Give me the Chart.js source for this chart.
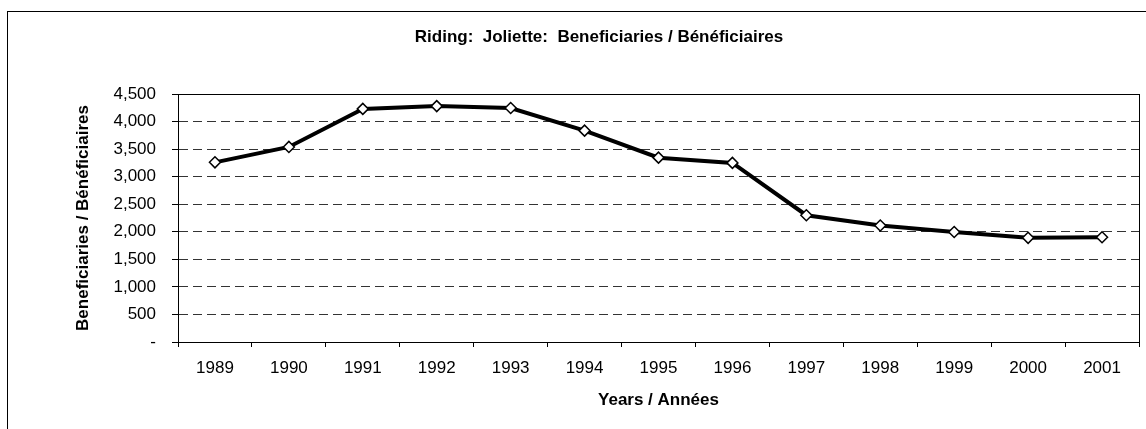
<!DOCTYPE html>
<html>
<head>
<meta charset="utf-8">
<script src="https://cdn.jsdelivr.net/npm/chart.js@4/dist/chart.umd.min.js"></script>
<style>
html,body{margin:0;padding:0;background:#fff;}
#wrap{width:1146px;height:429px;position:relative;}
</style>
</head>
<body>
<div id="wrap"><canvas id="c" width="1146" height="429"></canvas></div>
<script>
const years = ['1989','1990','1991','1992','1993','1994','1995','1996','1997','1998','1999','2000','2001'];
const beneficiaries = [3260, 3540, 4230, 4280, 4245, 3835, 3345, 3250, 2300, 2115, 1995, 1890, 1900];
const yTicks = [0, 500, 1000, 1500, 2000, 2500, 3000, 3500, 4000, 4500];
const titleText = 'Riding:  Joliette:  Beneficiaries / Bénéficiaires';
const yTitle = 'Beneficiaries / Bénéficiaires';
const xTitle = 'Years / Années';

const FONT = "'Liberation Sans', Arial, sans-serif";

const framePlugin = {
  id: 'frame',
  beforeDraw(chart) {
    const ctx = chart.ctx;
    ctx.save();
    ctx.fillStyle = '#fff';
    ctx.fillRect(0, 0, chart.width, chart.height);
    ctx.strokeStyle = '#000';
    ctx.lineWidth = 1;
    ctx.strokeRect(7.5, 11.5, 1300, 600);
    // chart title (the full chart frame extends beyond the right edge, so its centre is at ~599)
    ctx.fillStyle = '#000';
    ctx.font = "bold 17px " + FONT;
    ctx.textAlign = 'center';
    ctx.textBaseline = 'alphabetic';
    ctx.fillText(titleText, 599, 42);
    ctx.restore();
  },
  beforeDatasetsDraw(chart) {
    const a = chart.chartArea;
    const ctx = chart.ctx;
    ctx.save();
    ctx.strokeStyle = '#000';
    ctx.lineWidth = 1;
    ctx.strokeRect(Math.round(a.left) + 0.5, Math.round(a.top) + 0.5, Math.round(a.right - a.left), Math.round(a.bottom - a.top));
    ctx.restore();
  }
};

new Chart(document.getElementById('c'), {
  type: 'line',
  data: {
    labels: years,
    datasets: [{
      data: beneficiaries,
      borderColor: '#000',
      borderWidth: 4,
      tension: 0,
      pointStyle: 'rectRot',
      pointRadius: 5.5,
      pointBackgroundColor: '#fff',
      pointBorderColor: '#000',
      pointBorderWidth: 1.5,
      clip: false
    }]
  },
  options: {
    responsive: false,
    animation: false,
    devicePixelRatio: 1,
    layout: { padding: { left: 8, right: 4, top: 94, bottom: 0 } },
    plugins: {
      legend: { display: false },
      tooltip: { enabled: false },
      title: { display: false }
    },
    scales: {
      x: {
        offset: true,
        grid: {
          offset: true,
          drawOnChartArea: false,
          drawTicks: true,
          tickLength: 5,
          color: '#000',
          tickColor: '#000'
        },
        border: { display: true, color: '#000', width: 1 },
        ticks: {
          color: '#000',
          font: { family: FONT, size: 17 },
          padding: 11,
          maxRotation: 0,
          autoSkip: false
        },
        title: {
          display: true,
          text: xTitle,
          color: '#000',
          font: { family: FONT, size: 17, weight: 'bold' },
          padding: { top: 0, bottom: 18 }
        },
        afterFit(scale) { scale.height = 87; }
      },
      y: {
        min: 0,
        max: 4500,
        afterBuildTicks(scale) { scale.ticks = yTicks.map(v => ({ value: v })); },
        grid: {
          color: '#333',
          lineWidth: 1,
          tickLength: 6,
          tickColor: '#000',
          tickBorderDash: [],
          drawTicks: true
        },
        border: { display: true, color: '#000', width: 1, dash: [9, 5] },
        ticks: {
          color: '#000',
          font: { family: FONT, size: 17 },
          padding: 16,
          callback(v) { return v === 0 ? '-' : v.toLocaleString('en-US'); }
        },
        title: {
          display: true,
          text: yTitle,
          color: '#000',
          font: { family: FONT, size: 17, weight: 'bold' },
          padding: { top: 65, bottom: 0 }
        },
        afterFit(scale) { scale.width = 170; }
      }
    }
  },
  plugins: [framePlugin]
});
</script>
</body>
</html>
